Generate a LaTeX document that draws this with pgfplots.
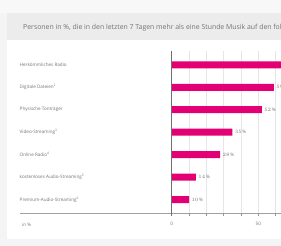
\documentclass[border=0pt]{standalone}
\usepackage{pgfplots}
\pgfplotsset{compat=1.18}
\usepackage{fontspec}
\setmainfont{Open Sans}
\definecolor{magenta}{HTML}{E20074}
\definecolor{txt}{HTML}{747474}
\definecolor{gridc}{HTML}{E6E6E6}
\begin{document}
\begin{tikzpicture}[x=1pt,y=1pt]
\clip (0,0) rectangle (281,246);
\fill[color={rgb,255:red,244;green,244;blue,244}] (0,0) rectangle (281,246);
\fill[color={rgb,255:red,248;green,248;blue,248}] (0,233) rectangle (281,246);
\fill[color={rgb,255:red,236;green,236;blue,236}] (7,206) rectangle (281,233);
\fill[white] (7,7) rectangle (281,206);
\node[anchor=west, text=txt, font=\fontsize{6.9}{7}\selectfont, inner sep=0pt] at (23,218) {Personen in \%, die in den letzten 7 Tagen mehr als eine Stunde Musik auf den folgenden Wegen geh\"ort haben};
\draw[color={rgb,255:red,160;green,160;blue,160}, line width=0.6pt] (20,33) -- (281,33);
\node[anchor=west, text=txt, font=\fontsize{4.6}{5}\selectfont, inner sep=0pt] at (22,21) {in \%};
\begin{axis}[
  at={(171.7pt,33pt)}, anchor=south west,
  x=1.732pt, y=22.45pt, y dir=reverse,
  xmin=0, xmax=100, ymin=-0.62, ymax=6.6,
  scale only axis,
  axis line style={draw=none},
  xbar, bar width=7pt,
  xtick={0,10,...,100},
  xticklabels={0,,,,,50,,,,,},
  xmajorgrids, major grid style={gridc, line width=0.5pt},
  tick align=outside, major tick length=2.5pt,
  tick style={color={rgb,255:red,150;green,150;blue,150}, line width=0.5pt},
  xtick pos=bottom,
  xticklabel style={text=txt, font=\fontsize{4.6}{5}\selectfont, yshift=-3pt},
  ytick={0,...,6},
  yticklabels={Herk\"ommliches Radio, Digitale Dateien\textsuperscript{2}, Physische Tontr\"ager, Video-Streaming\textsuperscript{3}, Online Radio\textsuperscript{4}, kostenloses Audio-Streaming\textsuperscript{5}, Premium-Audio-Streaming\textsuperscript{6}},
  yticklabel style={anchor=west, xshift=-153pt, text=txt, font=\fontsize{4.6}{5}\selectfont},
  ytick pos=left,
  ytick style={draw=none},
  minor ytick={0.5,1.5,...,5.5},
  minor tick length=2.5pt,
  minor tick style={color={rgb,255:red,150;green,150;blue,150}, line width=0.5pt},
  nodes near coords={\pgfmathprintnumber{\pgfplotspointmeta}\,\%},
  point meta=x,
  nodes near coords style={text=txt, font=\fontsize{4.6}{5}\selectfont, anchor=west, xshift=-1pt},
  clip=false,
]
\addplot[fill=magenta, draw=none] coordinates {(78,0) (59,1) (52,2) (35,3) (28,4) (14,5) (10,6)};
\draw[color={rgb,255:red,110;green,110;blue,110}, line width=0.6pt] (axis cs:0,-0.62) -- (axis cs:0,6.75);
\end{axis}
\end{tikzpicture}
\end{document}
